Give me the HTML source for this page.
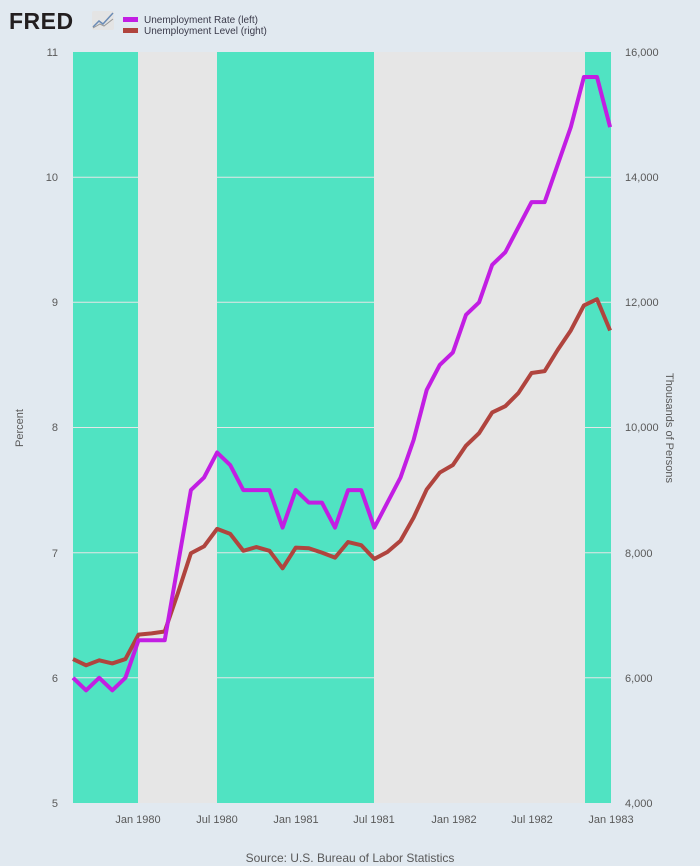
<!DOCTYPE html>
<html><head><meta charset="utf-8"><style>
body{margin:0;background:#e1e9f0;font-family:"Liberation Sans",sans-serif;}
svg{display:block}
text{font-family:"Liberation Sans",sans-serif;fill:#595959;font-size:11px}
</style></head><body>
<svg width="700" height="866" viewBox="0 0 700 866">
<rect width="700" height="866" fill="#e1e9f0"/>
<rect x="73" y="52" width="538" height="751" fill="#e6e6e6"/>
<rect x="73" y="52" width="65" height="751" fill="#50e3c2"/>
<rect x="217" y="52" width="157" height="751" fill="#50e3c2"/>
<rect x="585" y="52" width="26" height="751" fill="#50e3c2"/>
<g stroke="#e6e6e6" stroke-width="1">
<line x1="73" x2="611" y1="177.2" y2="177.2"/><line x1="73" x2="611" y1="302.3" y2="302.3"/>
<line x1="73" x2="611" y1="427.5" y2="427.5"/><line x1="73" x2="611" y1="552.7" y2="552.7"/>
<line x1="73" x2="611" y1="677.8" y2="677.8"/>
</g>
<g transform="translate(73,1053.34) scale(13.1,-62.585)">
<polyline fill="none" stroke="#b0443e" stroke-width="4" vector-effect="non-scaling-stroke" stroke-linejoin="round"
points="0,6.3 1,6.2 2,6.28 3,6.23 4,6.3 5,6.69 6,6.71 7,6.74 8,7.35 9,7.99 10,8.1 11,8.38 12,8.3 13,8.03 14,8.09 15,8.03 16,7.75 17,8.08 18,8.07 19,8.0 20,7.92 21,8.17 22,8.12 23,7.9 24,8.01 25,8.19 26,8.56 27,9.01 28,9.28 29,9.4 30,9.71 31,9.91 32,10.24 33,10.34 34,10.55 35,10.87 36,10.9 37,11.24 38,11.55 39,11.95 40,12.05 41,11.55"/>
</g>
<g transform="translate(73,1428.85) scale(13.1,-125.17)">
<polyline fill="none" stroke="#c21ee3" stroke-width="4" vector-effect="non-scaling-stroke" stroke-linejoin="round"
points="0,6.0 1,5.9 2,6.0 3,5.9 4,6.0 5,6.3 6,6.3 7,6.3 8,6.9 9,7.5 10,7.6 11,7.8 12,7.7 13,7.5 14,7.5 15,7.5 16,7.2 17,7.5 18,7.4 19,7.4 20,7.2 21,7.5 22,7.5 23,7.2 24,7.4 25,7.6 26,7.9 27,8.3 28,8.5 29,8.6 30,8.9 31,9.0 32,9.3 33,9.4 34,9.6 35,9.8 36,9.8 37,10.1 38,10.4 39,10.8 40,10.8 41,10.4"/>
</g>
<g text-anchor="end">
<text x="58" y="56">11</text><text x="58" y="181">10</text><text x="58" y="306">9</text>
<text x="58" y="431">8</text><text x="58" y="557">7</text><text x="58" y="682">6</text><text x="58" y="807">5</text>
</g>
<g text-anchor="start">
<text x="625" y="56">16,000</text><text x="625" y="181">14,000</text><text x="625" y="306">12,000</text>
<text x="625" y="431">10,000</text><text x="625" y="557">8,000</text><text x="625" y="682">6,000</text><text x="625" y="807">4,000</text>
</g>
<g text-anchor="middle">
<text x="138" y="823">Jan 1980</text><text x="217" y="823">Jul 1980</text><text x="296" y="823">Jan 1981</text>
<text x="374" y="823">Jul 1981</text><text x="454" y="823">Jan 1982</text><text x="532" y="823">Jul 1982</text>
<text x="611" y="823">Jan 1983</text>
<text x="350" y="862" style="font-size:12px">Source: U.S. Bureau of Labor Statistics</text>
</g>
<text transform="translate(23,428) rotate(-90)" text-anchor="middle">Percent</text>
<text transform="translate(666,428) rotate(90)" text-anchor="middle">Thousands of Persons</text>
<text x="9" y="29" style="font-size:23px;font-weight:bold;fill:#231f20;letter-spacing:0.5px">FRED</text>
<rect x="92" y="11" width="22" height="19" rx="2" fill="#e4e4e4"/>
<polyline points="93,27 99,21 103,24 113,13" fill="none" stroke="#6a8bb5" stroke-width="1.5"/>
<polyline points="93,28 100,24 104,26 113,19" fill="none" stroke="#999" stroke-width="1"/>
<rect x="123" y="17" width="15" height="5" fill="#c21ee3"/>
<rect x="123" y="28" width="15" height="5" fill="#b0443e"/>
<text x="144" y="23" style="font-size:10px;fill:#3a3a4a">Unemployment Rate (left)</text>
<text x="144" y="34" style="font-size:10px;fill:#3a3a4a">Unemployment Level (right)</text>
</svg>
</body></html>
